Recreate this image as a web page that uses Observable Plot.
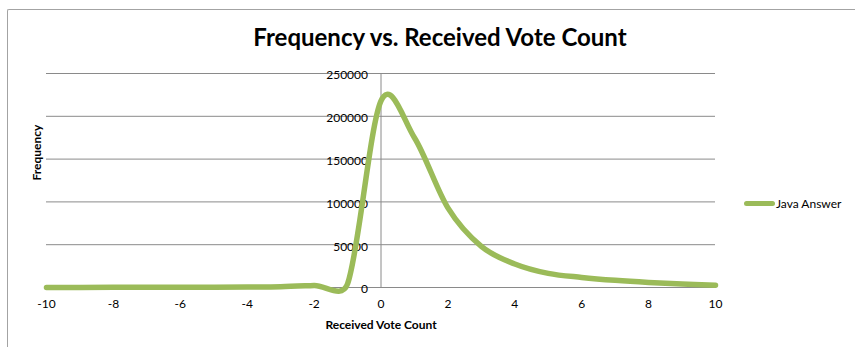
<!DOCTYPE html>
<html>
<head>
<meta charset="utf-8">
<script src="https://cdn.jsdelivr.net/npm/d3@7"></script>
<script src="https://cdn.jsdelivr.net/npm/@observablehq/plot@0.6"></script>
<style>
  html, body { margin: 0; padding: 0; background: #fff; }
  #wrap { position: relative; width: 855px; height: 347px; overflow: hidden; font-family: Lato, "Open Sans", sans-serif; }
  #border { position: absolute; left: 7px; top: 9px; width: 900px; height: 400px; border-left: 1.5px solid #a3a3a3; border-top: 1.5px solid #a3a3a3; border-top-left-radius: 2px; }
  #title { position: absolute; left: 0; width: 880px; top: 23px; text-align: center; font-weight: bold; font-size: 24px; color: #000; line-height: 28px; }
  #legend { position: absolute; left: 744px; top: 196px; display: flex; align-items: center; font-size: 12px; color: #000; }
  #legend .sw { width: 31px; height: 5px; border-radius: 3px; background: #9BBB59; margin-right: 1px; }
  #chart { position: absolute; left: 0; top: 0; }
</style>
</head>
<body>
<div id="wrap">
  <div id="border"></div>
  <div id="chart"></div>
  <div id="title">Frequency vs. Received Vote Count</div>
  <div id="legend"><div class="sw"></div><span>Java Answer</span></div>
</div>
<script>
const votes = [-10, -9, -8, -7, -6, -5, -4, -3, -2, -1, 0, 1, 2, 3, 4, 5, 6, 7, 8, 9, 10];
const frequency = [100, 120, 150, 200, 250, 350, 500, 800, 2400, 4200, 218000, 175000, 93000, 48000, 27500, 16500, 11800, 8400, 5900, 4000, 2600];
const xTicks = [-10, -8, -6, -4, -2, 0, 2, 4, 6, 8, 10];
const yTicks = [0, 50000, 100000, 150000, 200000, 250000];
const seriesName = "Java Answer";
const xTitle = "Received Vote Count";
const yTitle = "Frequency";

const data = votes.map((v, i) => ({votes: v, frequency: frequency[i]}));

// Spreadsheet-style smoothed line: Bezier segments with 1/6 tangent arms,
// each arm capped at half of its segment length (screen space).
function smoothCurve(context) {
  let pts = [];
  return {
    areaStart() {}, areaEnd() {},
    lineStart() { pts = []; },
    point(x, y) { pts.push([+x, +y]); },
    lineEnd() {
      const n = pts.length;
      if (!n) return;
      context.moveTo(pts[0][0], pts[0][1]);
      for (let i = 0; i < n - 1; i++) {
        const p0 = pts[Math.max(i - 1, 0)], p1 = pts[i], p2 = pts[i + 1], p3 = pts[Math.min(i + 2, n - 1)];
        const d12 = Math.hypot(p2[0] - p1[0], p2[1] - p1[1]);
        const d02 = Math.hypot(p2[0] - p0[0], p2[1] - p0[1]);
        const d13 = Math.hypot(p3[0] - p1[0], p3[1] - p1[1]);
        let f1 = 1 / 6, f2 = 1 / 6;
        if (d02 / 6 > d12 / 2) f1 = d12 / (2 * d02);
        if (d13 / 6 > d12 / 2) f2 = d12 / (2 * d13);
        context.bezierCurveTo(
          p1[0] + f1 * (p2[0] - p0[0]), p1[1] + f1 * (p2[1] - p0[1]),
          p2[0] - f2 * (p3[0] - p1[0]), p2[1] - f2 * (p3[1] - p1[1]),
          p2[0], p2[1]);
      }
    }
  };
}

const chart = Plot.plot({
  width: 855,
  height: 347,
  marginLeft: 46,
  marginRight: 140,
  marginTop: 73,
  marginBottom: 60,
  style: {fontFamily: "Lato, 'Open Sans', sans-serif", background: "transparent", color: "#000"},
  x: {domain: [-10, 10]},
  y: {domain: [0, 250000], axis: null},
  marks: [
    Plot.gridY(yTicks, {stroke: "#8a8a8a", strokeOpacity: 1, strokeWidth: 1}),
    Plot.ruleX([0], {stroke: "#8a8a8a", strokeWidth: 1}),
    Plot.axisX(xTicks, {tickSize: 0, tickPadding: 12, fontSize: 12, label: null, tickFormat: d => String(d)}),
    Plot.text(yTicks, {x: () => 0, y: d => d, text: d => String(d), textAnchor: "end", dx: -13, dy: 2, fontSize: 12, fill: "#000"}),
    Plot.line(data, {x: "votes", y: "frequency", curve: smoothCurve, stroke: "#9BBB59", strokeWidth: 5.5, strokeLinecap: "round", strokeLinejoin: "round"}),
    Plot.text([xTitle], {frameAnchor: "bottom", dy: 41, text: d => d, fontWeight: "bold", fontSize: 12, fill: "#000"}),
    Plot.text([yTitle], {frameAnchor: "left", dx: -9, rotate: -90, text: d => d, fontWeight: "bold", fontSize: 12, fill: "#000"})
  ]
});
document.getElementById("chart").appendChild(chart);
</script>
</body>
</html>
